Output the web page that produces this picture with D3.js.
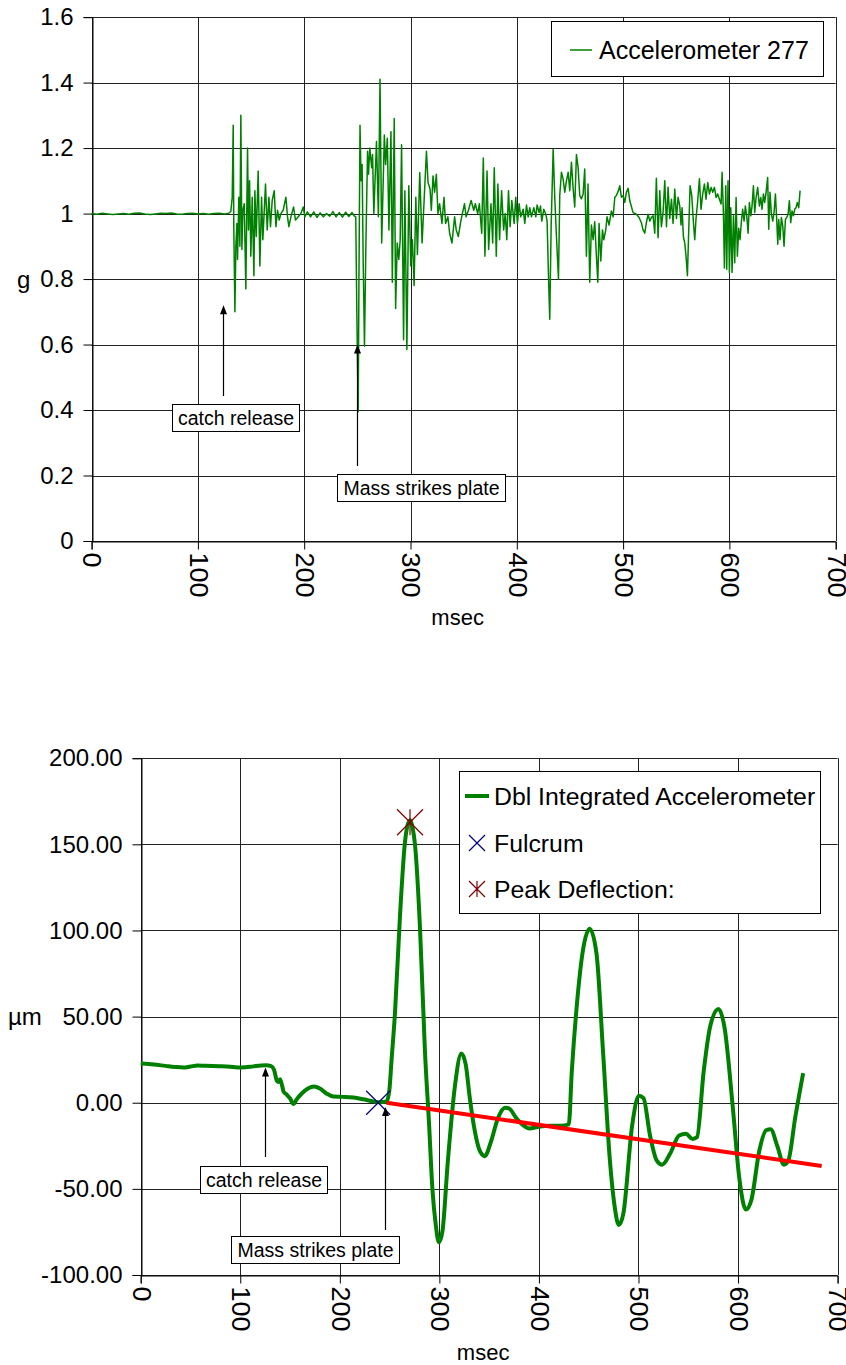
<!DOCTYPE html>
<html><head><meta charset="utf-8">
<script src="https://cdn.jsdelivr.net/npm/d3@7"></script>
<style>
body{margin:0;background:#fff;}
svg{display:block;font-family:"Liberation Sans",Arial,sans-serif;}
</style></head><body>
<svg id="c" width="846" height="1365"></svg>
<script>
// ---------- DATA ----------
const msTicks = [0,100,200,300,400,500,600,700];
const gTicks = [0,0.2,0.4,0.6,0.8,1,1.2,1.4,1.6];
const umTicks = [-100,-50,0,50,100,150,200];

// Accelerometer 277 samples [msec, g]
const accelSamples = [[0,1.000],[5,0.998],[10,1.001],[15,0.999],[20,0.997],[25,0.999],[30,1.000],[35,0.998],[40,1.001],[45,1.002],[50,0.999],[55,0.997],[60,0.999],[65,1.001],[70,1.000],[75,1.002],[80,0.999],[85,0.998],[90,1.000],[95,1.001],[100,0.999],[105,1.000],[110,0.998],[115,1.000],[120,1.001],[125,0.999],[128,1.000],[130,1.003],
[131,1.007],[132.3,1.05],[133.2,1.27],[133.8,0.95],[134.8,0.70],[135.7,0.90],[136.7,0.97],[137.3,0.86],[138.5,1.05],[139.5,0.90],[140.4,1.30],[141.4,0.89],[142.3,1.01],[143.6,1.03],[145.1,0.77],[146.7,1.20],[147.6,0.95],[148.6,1.10],[149.8,0.87],[151.1,1.05],[152.7,0.81],[153.6,1.07],[154.9,0.93],[156.7,1.13],[158.3,0.84],[159.9,1.05],[161.1,0.92],[163.6,1.09],[165.2,0.95],[166.8,1.05],[168.3,0.96],[169.9,1.04],[171.8,1.07],[173.4,0.96],[174.9,1.01],[176.5,0.98],[178.1,1.00],[180.2,1.01],[182.8,1.05],[184.3,0.99],[185.6,0.96],[187.5,0.99],[190.0,1.02],[191.8,0.98],[194.4,0.99],[196.9,1.00],[199.1,1.02],[200.6,0.99],
[203,1.005],[206,0.99],[209,1.005],[212,0.988],[215,1.002],[218,0.99],[221,1.0],[224,0.992],[227,1.006],[230,0.99],[233,1.003],[236,0.989],[239,1.004],[242,0.991],[245,1.003],[247,0.993],
[248.5,0.99],[249.5,0.70],[250.8,0.395],[251.5,0.80],[252.5,1.27],[253.5,1.10],[254.5,1.15],[255.5,0.85],[256.7,0.595],[258,0.90],[259.6,1.19],[260.5,1.12],[261.7,1.20],[263.5,1.14],[264.3,1.18],[265.5,1.00],[268,1.22],[269.8,0.99],[271.3,1.41],[272.9,0.91],[275.4,1.24],[276.6,1.15],[278.2,1.23],[279.7,0.95],[281.6,1.25],[282.9,0.79],[284.7,1.29],[286,0.71],[287.5,0.91],[289,0.86],[290.3,0.92],[291.6,1.21],[293.5,0.615],[294.7,1.07],[296.6,0.585],[298.4,1.085],[300.3,0.84],[301.8,0.92],[303.4,0.78],[305,1.05],[306.5,0.875],[308.7,1.125],[310.9,0.91],[312.8,1.04],[315,1.19],[316.5,1.095],[318.4,1.075],[319.6,1.01],[321.2,1.115],[322.7,1.065],[324.3,1.12],[325.8,1.0],[327.4,1.03],[329.6,0.97],[331.5,1.05],[333,0.97],[335.2,0.99],[336.8,0.94],[339,0.91],[341.5,0.99],[343,0.95],[345,0.93],[347.5,0.98],[350.8,1.03],[352.3,0.99],[354.5,1.01],[357,1.04],[359.5,1.01],[361,1.03],[363.2,1.00],[364.8,1.03],[367,0.94],[368.5,1.17],[370,0.87],[372,1.13],[373.5,0.89],[375.7,1.03],[377.3,0.91],[378.8,1.14],[380.7,0.87],[382.2,1.09],[383.8,0.92],[385.7,1.07],[387.6,0.95],[389.1,1.00],[390.6,0.92],[392.2,1.07],[393.7,0.96],[395.3,1.04],[397.5,0.97],[399,1.05],[400.6,0.97],[402.2,1.03],[403.7,0.99],
[406,1.013],[407.5,0.97],[409.1,1.026],[410.7,0.99],[412.2,1.018],[413.8,0.99],[416,1.018],[417.9,0.99],[419.1,1.026],[421,1.003],[422.3,1.023],[423.5,0.977],[425.4,1.013],[427.3,0.998],[428.5,0.977],[429.8,0.81],[431,0.677],[432.3,0.96],[434.2,1.196],[435.7,1.05],[437.3,0.93],[439.2,0.80],[440.4,1.055],[442,1.126],[443.6,1.105],[445.1,1.065],[446.7,1.10],[448.3,1.126],[449.8,1.07],[451.4,1.157],[453,1.075],[454.5,1.02],[456.1,1.18],[457.7,1.14],[459.2,1.055],[460.8,1.045],[462.4,1.06],[463.9,1.136],[465.5,0.87],[467,1.09],[468.6,0.79],[470.2,0.965],[471.8,0.92],[473.3,0.975],[474.9,0.87],[476.2,0.79],[477.4,0.97],[479,0.855],[480.6,0.95],[481.8,0.92],[483.7,0.95],[484.9,0.99],[486.8,0.965],[489,1.008],[490.6,0.99],[492.2,1.05],[493.7,1.055],[495.6,1.07],[496.9,1.085],[498.4,1.05],[500,1.055],[501.6,1.034],[503.1,1.065],[504.7,1.077],[506.3,1.039],[509.4,1.003],[512.5,0.998],[515,0.988],[517.2,0.972],[518.8,0.95],[520.4,0.94],[521.9,0.972],[523.5,0.998],[525.1,0.977],[526.6,0.988],[528.2,0.993],[529.8,0.94],[531.3,1.108],[532.9,0.926],[534.5,1.07],[536,0.96],[537.6,1.003],[539.2,1.10],[540.8,0.96],[542.3,1.08],[543.9,0.985],[545.5,1.044],[547,0.97],[548.6,1.075],[550.2,0.985],[551.7,1.05],[553.3,1.023],
[554.5,0.965],[555.5,1.018],[556.7,0.93],[558,0.91],[559.2,0.87],[560.5,0.81],[561.8,0.955],[563,1.085],[564.6,1.055],[566.1,0.975],[567.4,0.92],[568.6,0.985],[570.2,1.039],[571.8,1.106],[573.3,1.013],[574.9,1.06],[576.5,1.09],[578,1.044],[579.6,1.095],[581.2,1.06],[582.8,1.08],[584.3,1.065],[585.9,1.08],[587.5,1.049],[589,1.06],[590.6,1.044],[592.2,1.029],[593.1,1.126],[594.4,0.998],[595.3,0.834],[596.6,1.085],[597.5,0.83],[598.7,1.10],[600,0.82],[601.3,1.018],[602.5,0.82],[603.8,0.993],[605,0.85],[606.3,1.049],[607.5,0.87],[608.8,0.955],[610,0.92],[611.3,0.977],[612.5,1.013],[613.8,0.977],[615,1.023],[616.3,0.993],[617.6,0.94],[618.8,1.034],[620.1,0.993],[621.3,1.023],[622.6,1.085],[623.8,1.003],[625.1,1.049],[626.6,1.08],[628.2,1.023],[629.5,1.049],[630.7,1.013],[632,1.06],[633.2,1.034],[634.5,1.065],[636,1.11],[637,0.952],[638.2,1.065],[639.5,0.998],[640.8,0.977],[642,1.003],[643.3,1.06],[644.5,0.982],[645.5,0.906],[646.4,0.982],[647.6,0.92],[648.9,0.988],[650.2,0.962],[651.4,0.90],[652.7,0.982],[653.9,0.988],[655.2,0.998],[656.4,1.039],[657.7,0.972],[658.9,1.008],[660.2,0.993],[661.4,1.013],[662.7,1.018],[663.9,1.034],[665.2,1.018],[666.5,1.07]];

// Dbl Integrated Accelerometer samples [msec, µm]
const deflSamples = [[0,22.8],[8,22.5],[16,22.0],[25,21.4],[34,20.8],[43,20.4],[50,21.0],[57,21.6],[65,21.4],[79,21.2],[90,20.9],[97,20.5],[105,20.6],[113,21.1],[121,21.6],[126,21.7],[131,21.2],[134,19.0],[136.6,13.0],[138,12.0],[140,13.6],[142,10.0],[143.5,6.5],[146.5,4.8],[150,2.5],[153.5,-0.8],[156.5,1.8],[161.5,5.2],[168,8.2],[174,9.4],[180,8.2],[186.5,5.4],[193.5,3.6],[203,3.4],[213.6,3.0],[223.6,2.0],[233.7,0.8],[240,0.3],[247,0.8],[249.7,7],[252,25],[255.4,52],[260.4,108],[265.4,151],[268.5,162],[270.8,164],[273,160],[275.5,150],[280.5,102],[285.5,30],[289.7,-13],[293,-50],[296.4,-71],[299.5,-81],[303,-75],[308.5,-34],[315.7,10],[322,28.6],[326.4,22.4],[330.5,3],[334.5,-12.9],[341,-28.4],[345.7,-31],[351.5,-23.2],[359,-8.7],[366,-2.9],[370.4,-3.5],[377,-8.7],[383.8,-12.9],[390.6,-14.9],[399.5,-13.9],[410.7,-13.3],[422,-13.3],[430,-12.5],[433,18],[437.6,53.5],[444.3,88.8],[451,101],[457.8,86.7],[464.5,28.6],[471.3,-33.6],[476,-60],[480.2,-71],[484.7,-64.7],[493.7,-12.9],[500.4,4.1],[505,2.7],[511.6,-19],[518.4,-33.6],[523.8,-36],[531.8,-29.5],[540.8,-19],[547.6,-18],[554.3,-21],[558.8,-20],[565.5,18.3],[572.3,45],[580.4,54.4],[586.6,43],[594.7,-2.5],[601.3,-44],[608,-62],[613.4,-56.4],[621.5,-27.4],[628.2,-16],[632.7,-15.4],[639.5,-25.3],[646,-36],[650.5,-33.6],[657.4,-8.7],[665.4,17.2]];

const trendLine = [[247,0],[684,-36.7]];
const fulcrumPoint = [238.5,0];
const peakPoint = [270.5,162.8];

const topAnnotations = [{text:"catch release", ms:124, g:0.72, boxX:172, boxY:404, boxW:127, tailY:396},
                        {text:"Mass strikes plate", ms:250, g:0.60, boxX:337, boxY:474, boxW:168, tailY:466}];
const botAnnotations = [{text:"catch release", ms:124.5, um:20.5, boxX:200, boxY:1166, boxW:127, tailY:1157},
                        {text:"Mass strikes plate", ms:245, um:-2.5, boxX:231, boxY:1236, boxW:168, tailY:1230}];

// ---------- DRAW ----------
const svg = d3.select("#c");
const GREEN = "#008000";

function arrow(g, x, y1, y2) {
  g.append("line").attr("x1", x).attr("x2", x).attr("y1", y1).attr("y2", y2 + 7)
    .attr("stroke", "#000").attr("stroke-width", 1.2);
  g.append("path").attr("d", `M${x},${y2} L${x-3.5},${y2+9} L${x+3.5},${y2+9} Z`).attr("fill", "#000");
}
function annotBox(g, a) {
  g.append("rect").attr("x", a.boxX + 0.5).attr("y", a.boxY + 0.5).attr("width", a.boxW).attr("height", 27)
    .attr("fill", "#fff").attr("stroke", "#000").attr("stroke-width", 1);
  g.append("text").attr("x", a.boxX + a.boxW / 2 + 0.5).attr("y", a.boxY + 14).attr("text-anchor", "middle")
    .attr("dominant-baseline", "central").attr("font-size", 19.5).text(a.text);
}

function frame(x, y, yTicks, fmt, yTitle, titleTickVal, xTitleY) {
  const g = svg.append("g");
  const [x0, x1] = x.range(), [yb, yt] = y.range();
  g.selectAll(".gy").data(yTicks).join("line")
    .attr("x1", x0).attr("x2", x1).attr("y1", d => Math.round(y(d)) + 0.5).attr("y2", d => Math.round(y(d)) + 0.5)
    .attr("stroke", "#222").attr("stroke-width", 1);
  g.selectAll(".gx").data(msTicks).join("line")
    .attr("x1", d => Math.round(x(d)) + 0.5).attr("x2", d => Math.round(x(d)) + 0.5).attr("y1", yt).attr("y2", yb)
    .attr("stroke", "#222").attr("stroke-width", 1);
  const ya = g.append("g").attr("transform", `translate(${Math.round(x0) + 0.5},0)`)
    .call(d3.axisLeft(y).tickValues(yTicks).tickSize(9).tickPadding(10).tickFormat(fmt));
  ya.select(".domain").attr("stroke", "#000");
  ya.selectAll("line").attr("stroke", "#000");
  ya.selectAll("text").attr("font-size", 24).attr("fill", "#000").attr("font-family", "Liberation Sans, Arial, sans-serif");
  const xa = g.append("g").attr("transform", `translate(0,${Math.round(yb) + 0.5})`)
    .call(d3.axisBottom(x).tickValues(msTicks).tickSize(8).tickFormat(d => d));
  xa.select(".domain").attr("stroke", "#000");
  xa.selectAll("line").attr("stroke", "#000");
  xa.selectAll("text").attr("font-size", 25).attr("fill", "#000").attr("font-family", "Liberation Sans, Arial, sans-serif")
    .attr("text-anchor", "start").attr("dy", null).attr("y", null)
    .attr("dominant-baseline", "central")
    .attr("transform", "translate(0,11) rotate(90) scale(1.08,1)");
  g.append("text").attr("x", (x0 + x1) / 2 - 6).attr("y", xTitleY).attr("text-anchor", "middle")
    .attr("dominant-baseline", "central").attr("font-size", 22).text("msec");
  g.append("text").attr("x", yTitle.x).attr("y", y(titleTickVal)).attr("text-anchor", "start")
    .attr("dominant-baseline", "central").attr("font-size", 24).text(yTitle.t);
  return g;
}

// ===== TOP CHART =====
const xT = d3.scaleLinear().domain([0, 700]).range([91.6, 835.7]);
const yT = d3.scaleLinear().domain([0, 1.6]).range([541, 17.1]);
const gTop = frame(xT, yT, gTicks, d => d, {x: 17, t: "g"}, 0.8, 617);

gTop.append("path").datum(accelSamples)
  .attr("d", d3.line().x(d => xT(d[0])).y(d => yT(d[1])))
  .attr("fill", "none").attr("stroke", GREEN).attr("stroke-width", 1.5).attr("stroke-linejoin", "round");

gTop.append("rect").attr("x", 551.5).attr("y", 21.5).attr("width", 272).attr("height", 55)
  .attr("fill", "#fff").attr("stroke", "#000");
gTop.append("line").attr("x1", 570).attr("x2", 592).attr("y1", 50).attr("y2", 50).attr("stroke", GREEN).attr("stroke-width", 1.5);
gTop.append("text").attr("x", 599).attr("y", 50).attr("dominant-baseline", "central").attr("font-size", 25).text("Accelerometer 277");

topAnnotations.forEach(a => {
  arrow(gTop, Math.round(xT(a.ms)) + 0.5, a.tailY, yT(a.g));
  annotBox(gTop, a);
});

// ===== BOTTOM CHART =====
const xB = d3.scaleLinear().domain([0, 700]).range([140.7, 837.6]);
const yB = d3.scaleLinear().domain([-100, 200]).range([1275, 758.2]);
const gBot = frame(xB, yB, umTicks, d => d.toFixed(2), {x: 8, t: "µm"}, 50, 1352);

gBot.append("path").datum(deflSamples)
  .attr("d", d3.line().curve(d3.curveMonotoneX).x(d => xB(d[0])).y(d => yB(d[1])))
  .attr("fill", "none").attr("stroke", GREEN).attr("stroke-width", 4).attr("stroke-linejoin", "round");

gBot.append("path").datum(trendLine)
  .attr("d", d3.line().x(d => xB(d[0])).y(d => yB(d[1])))
  .attr("fill", "none").attr("stroke", "#ff0000").attr("stroke-width", 4);

function xMark(g, cx, cy, r, color) {
  g.append("path").attr("d", `M${cx-r},${cy-r}L${cx+r},${cy+r}M${cx-r},${cy+r}L${cx+r},${cy-r}`)
    .attr("stroke", color).attr("stroke-width", 1.2).attr("fill", "none");
}
function starMark(g, cx, cy, r, color) {
  g.append("path").attr("d", `M${cx-r},${cy-r}L${cx+r},${cy+r}M${cx-r},${cy+r}L${cx+r},${cy-r}M${cx},${cy-r}L${cx},${cy+r}`)
    .attr("stroke", color).attr("stroke-width", 1.2).attr("fill", "none");
}
xMark(gBot, xB(fulcrumPoint[0]), yB(fulcrumPoint[1]), 12, "#000080");
starMark(gBot, xB(peakPoint[0]), yB(peakPoint[1]), 13, "#800000");

botAnnotations.forEach(a => {
  arrow(gBot, Math.round(xB(a.ms)) + 0.5, a.tailY, yB(a.um));
  annotBox(gBot, a);
});

gBot.append("rect").attr("x", 459.5).attr("y", 771.5).attr("width", 361).attr("height", 142)
  .attr("fill", "#fff").attr("stroke", "#000");
gBot.append("line").attr("x1", 465).attr("x2", 489).attr("y1", 796).attr("y2", 796).attr("stroke", GREEN).attr("stroke-width", 4);
xMark(gBot, 477, 843, 8, "#000080");
starMark(gBot, 477, 889, 8, "#800000");
[["Dbl Integrated Accelerometer", 796], ["Fulcrum", 843], ["Peak Deflection:", 889]].forEach(([t, y]) => {
  gBot.append("text").attr("x", 494).attr("y", y).attr("dominant-baseline", "central").attr("font-size", 24.8).text(t);
});
</script>
</body></html>
